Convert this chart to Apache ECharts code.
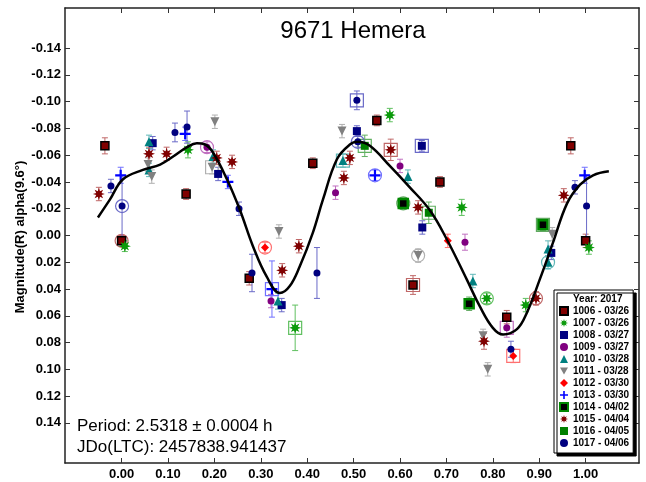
<!DOCTYPE html>
<html>
<head>
<meta charset="utf-8">
<script src="https://cdn.jsdelivr.net/npm/echarts@6/dist/echarts.min.js"></script>
<style>
  html, body { margin: 0; padding: 0; background: #fff; }
  #chart { width: 646px; height: 482px; }
</style>
</head>
<body>
<div id="chart"></div>
<script>
// tick values
var xTicks = [0, 0.1, 0.2, 0.3, 0.4, 0.5, 0.6, 0.7, 0.8, 0.9, 1.0];
var yTicks = [-0.14, -0.12, -0.10, -0.08, -0.06, -0.04, -0.02, 0, 0.02, 0.04, 0.06, 0.08, 0.10, 0.12, 0.14];

// fit curve [phase, mag]
var fitCurve = [
  [-0.051, -0.0135], [-0.025, -0.027], [0.003, -0.042], [0.046, -0.049], [0.083, -0.053],
  [0.111, -0.059], [0.141, -0.066], [0.162, -0.069], [0.180, -0.068], [0.197, -0.062],
  [0.227, -0.042], [0.255, -0.019], [0.283, 0.008], [0.313, 0.031], [0.341, 0.043],
  [0.362, 0.038], [0.384, 0.023], [0.412, -0.002], [0.434, -0.027], [0.464, -0.057],
  [0.492, -0.068], [0.509, -0.070], [0.535, -0.067], [0.578, -0.052], [0.621, -0.036],
  [0.664, -0.019], [0.701, 0.003], [0.744, 0.033], [0.772, 0.053], [0.800, 0.069],
  [0.822, 0.074], [0.852, 0.070], [0.873, 0.058], [0.901, 0.033], [0.930, 0.005],
  [0.960, -0.024], [0.988, -0.038], [1.016, -0.045], [1.050, -0.048]
];

// observations [phase, mag, error, ring(0 none, 1 circle, 2 box)]
var s1006 = [[-0.036, -0.067, 0.006, 0], [0.0, 0.004, 0.004, 1], [0.139, -0.031, 0.004, 0], [0.275, 0.032, 0.005, 0],
  [0.412, -0.054, 0.004, 0], [0.550, -0.086, 0.004, 0], [0.686, -0.040, 0.004, 0], [0.628, 0.037, 0.007, 2],
  [0.830, 0.061, 0.005, 0], [0.968, -0.067, 0.006, 0], [1.0, 0.004, 0.005, 0]];
var s1007 = [[0.007, 0.008, 0.004, 0], [0.143, -0.064, 0.006, 0], [0.374, 0.069, 0.017, 2], [0.578, -0.090, 0.005, 0],
  [0.733, -0.021, 0.006, 0], [0.787, 0.047, 0.004, 1], [0.871, 0.052, 0.005, 0], [1.007, 0.009, 0.005, 0]];
var s1008 = [[0.067, -0.069, 0.005, 0], [0.208, -0.046, 0.005, 0], [0.345, 0.052, 0.005, 0], [0.507, -0.078, 0.004, 0],
  [0.647, -0.067, 0.004, 2], [0.648, -0.006, 0.005, 0], [0.926, 0.013, 0.005, 0]];
var s1009 = [[0.184, -0.066, 0.004, 1], [0.322, 0.049, 0.005, 0], [0.461, -0.032, 0.005, 0], [0.600, -0.052, 0.005, 0],
  [0.740, 0.005, 0.006, 0], [0.830, 0.069, 0.007, 2]];
var s1010 = [[0.059, -0.070, 0.005, 0], [0.059, -0.049, 0.005, 0], [0.197, -0.059, 0.005, 0], [0.337, 0.049, 0.006, 0],
  [0.477, -0.056, 0.005, 2], [0.617, -0.044, 0.005, 0], [0.757, 0.034, 0.005, 0], [0.919, 0.010, 0.006, 0],
  [0.919, 0.020, 0.005, 1]];
var s1011 = [[0.057, -0.053, 0.005, 0], [0.065, -0.044, 0.005, 0], [0.201, -0.085, 0.005, 0], [0.195, -0.051, 0.005, 2],
  [0.339, -0.003, 0.005, 0], [0.475, -0.078, 0.005, 0], [0.639, 0.015, 0.005, 1], [0.779, 0.075, 0.005, 0],
  [0.789, 0.100, 0.005, 0], [0.928, -0.001, 0.005, 0]];
var s1012 = [[0.309, 0.009, 0.004, 1], [0.703, 0.004, 0.005, 0], [0.844, 0.090, 0.005, 2]];
var s1013 = [[-0.002, -0.045, 0.006, 0], [0.137, -0.076, 0.005, 0], [0.229, -0.040, 0.005, 0], [0.324, 0.040, 0.021, 2],
  [0.546, -0.045, 0.004, 1], [0.998, -0.045, 0.006, 0]];
var s1014 = [[0.607, -0.024, 0.004, 1], [0.749, 0.051, 0.005, 0], [0.908, -0.008, 0.004, 2]];
var s1015 = [[-0.049, -0.031, 0.005, 0], [0.059, -0.061, 0.005, 0], [0.097, -0.061, 0.005, 0], [0.205, -0.058, 0.005, 0],
  [0.238, -0.055, 0.005, 0], [0.346, 0.026, 0.005, 0], [0.382, 0.008, 0.005, 0], [0.479, -0.043, 0.005, 0],
  [0.492, -0.058, 0.005, 0], [0.580, -0.064, 0.008, 2], [0.639, -0.021, 0.005, 0], [0.781, 0.079, 0.006, 0],
  [0.893, 0.047, 0.005, 1], [0.953, -0.030, 0.005, 0]];
var s1016 = [[0.524, -0.067, 0.008, 2], [0.662, -0.017, 0.008, 2]];
var s1017 = [[-0.023, -0.037, 0.005, 0], [0.001, -0.022, 0.023, 1], [0.115, -0.077, 0.007, 0], [0.141, -0.081, 0.012, 0],
  [0.253, -0.020, 0.005, 0], [0.281, 0.028, 0.014, 0], [0.421, 0.028, 0.019, 0], [0.507, -0.101, 0.007, 2],
  [0.509, -0.070, 0.004, 1], [0.839, 0.085, 0.006, 0], [0.977, -0.036, 0.005, 0], [1.002, -0.022, 0.023, 0]];

// star (asterisk-like) path
var star = (function () {
  var pts = [];
  for (var i = 0; i < 16; i++) {
    var a = i * Math.PI / 8 - Math.PI / 2;
    var r = i % 2 ? 4.8 : 10;
    pts.push((10 + r * Math.cos(a)).toFixed(2) + ',' + (10 + r * Math.sin(a)).toFixed(2));
  }
  return 'path://M' + pts.join('L') + 'Z';
})();
var plus = 'path://M4,0H6V4H10V6H6V10H4V6H0V4H4Z';
var triDown = 'path://M0,0L10,0L5,9Z';

var groups = [
  {name: '1006 - 03/26', data: s1006, symbol: 'rect', size: 8, color: '#800000', border: '#000', bw: 1.5, bar: '#c06868'},
  {name: '1007 - 03/26', data: s1007, symbol: star, size: 12, color: '#0a9a0a', bar: '#60c060'},
  {name: '1008 - 03/27', data: s1008, symbol: 'rect', size: 8, color: '#000080', bar: '#6a6ac8'},
  {name: '1009 - 03/27', data: s1009, symbol: 'circle', size: 7, color: '#800080', bar: '#c070c0'},
  {name: '1010 - 03/28', data: s1010, symbol: 'triangle', size: 9, color: '#008080', bar: '#60b8b8'},
  {name: '1011 - 03/28', data: s1011, symbol: triDown, size: 9, color: '#808080', bar: '#b0b0b0'},
  {name: '1012 - 03/30', data: s1012, symbol: 'diamond', size: 8, color: '#ff0000', bar: '#ff7070'},
  {name: '1013 - 03/30', data: s1013, symbol: plus, size: 11, color: '#0000ff', bar: '#7070ff'},
  {name: '1014 - 04/02', data: s1014, symbol: 'rect', size: 9, color: '#000', border: '#008800', bw: 2.5, bar: '#60a860'},
  {name: '1015 - 04/04', data: s1015, symbol: star, size: 12, color: '#800000', bar: '#c06868'},
  {name: '1016 - 04/05', data: s1016, symbol: 'rect', size: 8, color: '#008000', bar: '#60b060'},
  {name: '1017 - 04/06', data: s1017, symbol: 'circle', size: 7, color: '#000080', bar: '#6a6ac8'}
];

function errRender(barColor) {
  return function (params, api) {
    var x = api.value(0), y = api.value(1), e = api.value(2), ring = api.value(3);
    var p = api.coord([x, y]);
    var t = api.coord([x, y - e]);
    var b = api.coord([x, y + e]);
    var st = {stroke: barColor, lineWidth: 1, fill: null};
    var kids = [
      {type: 'line', shape: {x1: p[0], y1: t[1], x2: p[0], y2: b[1]}, style: st},
      {type: 'line', shape: {x1: p[0] - 3, y1: t[1], x2: p[0] + 3, y2: t[1]}, style: st},
      {type: 'line', shape: {x1: p[0] - 3, y1: b[1], x2: p[0] + 3, y2: b[1]}, style: st}
    ];
    if (ring === 1) {
      kids.push({type: 'circle', shape: {cx: p[0], cy: p[1], r: 6.5}, style: {stroke: barColor, lineWidth: 1.2, fill: null}});
    } else if (ring === 2) {
      kids.push({type: 'rect', shape: {x: p[0] - 6.5, y: p[1] - 6.5, width: 13, height: 13}, style: {stroke: barColor, lineWidth: 1.2, fill: null}});
    }
    return {type: 'group', children: kids};
  };
}

var series = [];
groups.forEach(function (g) {
  series.push({
    name: g.name + ' err', type: 'custom', data: g.data, z: 2,
    encode: {x: 0, y: 1}, renderItem: errRender(g.bar), silent: true
  });
});
groups.forEach(function (g) {
  series.push({
    name: g.name, type: 'scatter', data: g.data, z: 3,
    symbol: g.symbol, symbolSize: g.size,
    itemStyle: {color: g.color, borderColor: g.border || g.color, borderWidth: g.bw || 0, opacity: 1}
  });
});
series.push({
  name: 'fit', type: 'line', data: fitCurve, smooth: 0.4, showSymbol: false, z: 4,
  lineStyle: {color: '#000', width: 2.5}
});

var tickFont = {fontFamily: 'Liberation Sans', fontWeight: 'bold', fontSize: 13, color: '#000'};
var frame = {show: true, onZero: false, lineStyle: {color: '#222', width: 1.5}};

var chart = echarts.init(document.getElementById('chart'));
chart.setOption({
  animation: false,
  backgroundColor: '#fff',
  grid: {left: 65, right: 7, top: 8, bottom: 19},
  legend: {
    orient: 'vertical', left: 554, top: 290,
    data: groups.map(function (g) { return g.name; }),
    itemWidth: 8, itemHeight: 8, itemGap: 0,
    padding: [15, 4, 4, 5],
    backgroundColor: '#fff', borderColor: '#000', borderWidth: 1,
    shadowColor: '#000', shadowBlur: 0, shadowOffsetX: 3, shadowOffsetY: 3,
    selectedMode: false,
    textStyle: {fontFamily: 'Liberation Sans', fontWeight: 'bold', fontSize: 10, lineHeight: 12, color: '#000'}
  },
  graphic: [
    {type: 'text', x: 353, y: 31, z: 100, style: {text: '9671 Hemera', font: '24px "Liberation Sans"', fill: '#000', textAlign: 'center', textVerticalAlign: 'middle'}},
    {type: 'text', x: 20, y: 237, rotation: Math.PI / 2, z: 100, style: {text: 'Magnitude(R) alpha(9.6°)', font: 'bold 13px "Liberation Sans"', fill: '#000', textAlign: 'center', textVerticalAlign: 'middle'}},
    {type: 'text', x: 77, y: 426, z: 100, style: {text: 'Period: 2.5318 ± 0.0004 h', font: '17px "Liberation Sans"', fill: '#000', textVerticalAlign: 'middle'}},
    {type: 'text', x: 77, y: 447, z: 100, style: {text: 'JDo(LTC): 2457838.941437', font: '17px "Liberation Sans"', fill: '#000', textVerticalAlign: 'middle'}},
    {type: 'text', x: 573, y: 299, z: 100, style: {text: 'Year: 2017', font: 'bold 10px "Liberation Sans"', fill: '#000', textVerticalAlign: 'middle'}}
  ],
  xAxis: [
    {type: 'value', position: 'bottom', min: -0.122, max: 1.115, axisLine: frame, splitLine: {show: false},
      axisTick: {inside: true, length: 5, customValues: xTicks, lineStyle: {color: '#333'}},
      axisLabel: Object.assign({customValues: xTicks, margin: 5, formatter: function (v) { return v.toFixed(2); }}, tickFont)},
    {type: 'value', position: 'top', min: -0.122, max: 1.115, axisLine: frame, splitLine: {show: false},
      axisTick: {inside: true, length: 5, customValues: xTicks, lineStyle: {color: '#333'}},
      axisLabel: {show: false}}
  ],
  yAxis: [
    {type: 'value', position: 'left', inverse: true, min: -0.17, max: 0.17, axisLine: frame, splitLine: {show: false},
      axisTick: {inside: true, length: 5, customValues: yTicks, lineStyle: {color: '#333'}},
      axisLabel: Object.assign({customValues: yTicks, margin: 4, formatter: function (v) { return v.toFixed(2); }}, tickFont)},
    {type: 'value', position: 'right', inverse: true, min: -0.17, max: 0.17, axisLine: frame, splitLine: {show: false},
      axisTick: {inside: true, length: 5, customValues: yTicks, lineStyle: {color: '#333'}},
      axisLabel: {show: false}}
  ],
  series: series
});
</script>
</body>
</html>
